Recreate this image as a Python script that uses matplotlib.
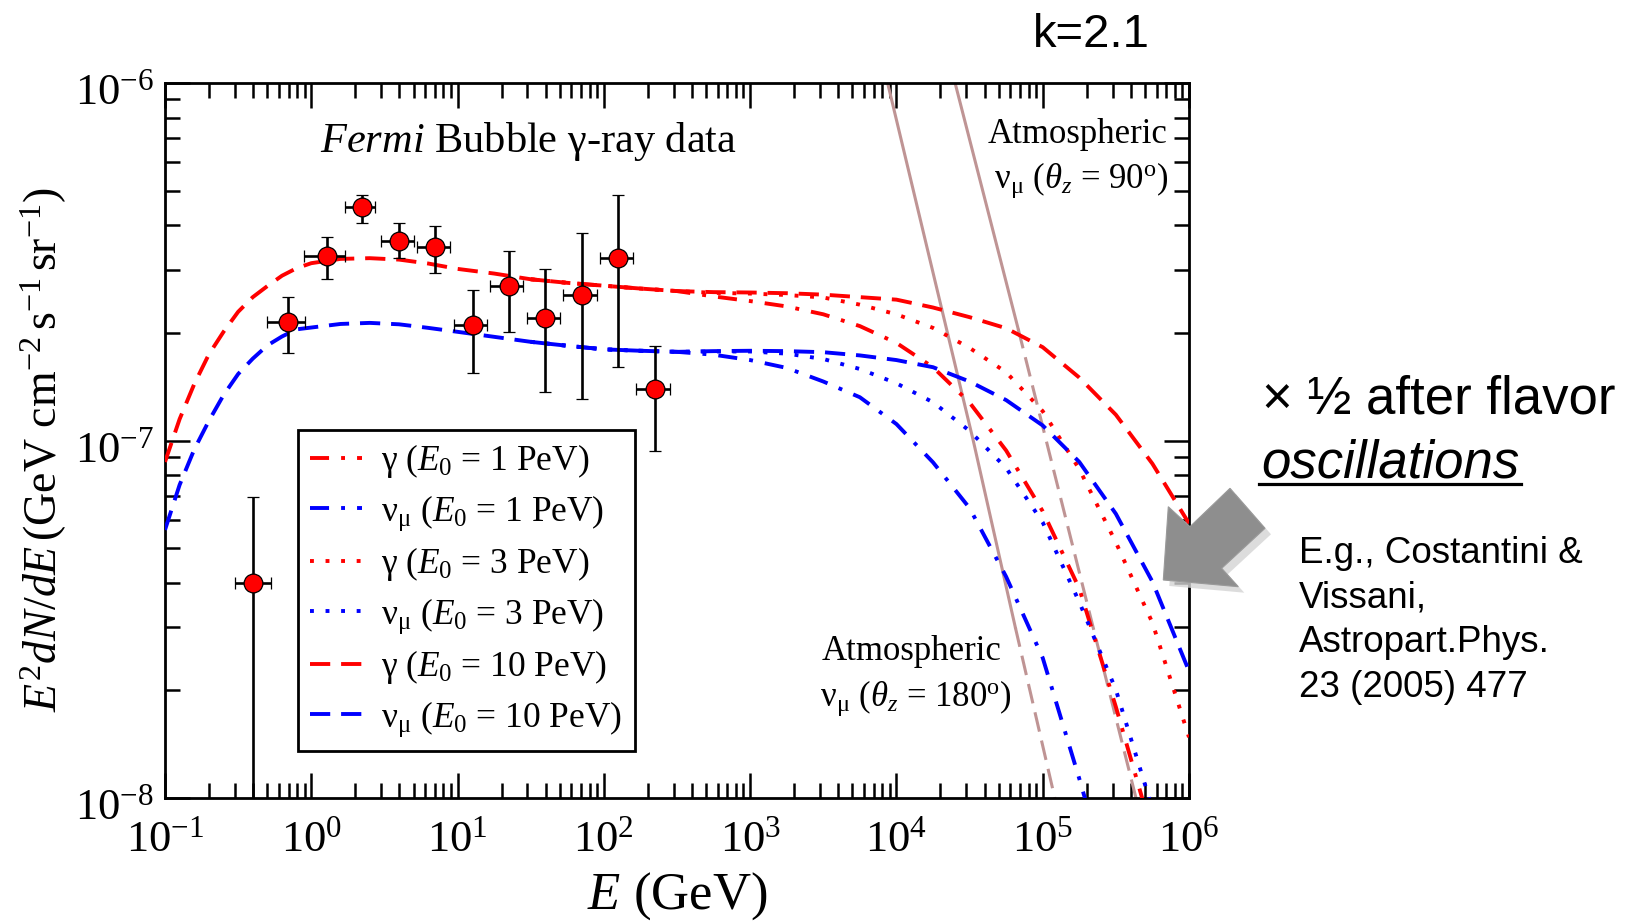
import numpy as np
import matplotlib
matplotlib.use('Agg')
import matplotlib.pyplot as plt
import matplotlib.transforms as mtransforms
from matplotlib.ticker import LogLocator, NullFormatter
from matplotlib.patches import Polygon
from matplotlib.lines import Line2D

plt.rcParams['font.family'] = ['Liberation Serif', 'DejaVu Serif']
plt.rcParams['mathtext.fontset'] = 'custom'
plt.rcParams['mathtext.rm'] = 'Liberation Serif'
plt.rcParams['mathtext.it'] = 'Liberation Serif:italic'
plt.rcParams['mathtext.bf'] = 'Liberation Serif:bold'

# ---------------- data ----------------
# Fermi bubble gamma-ray data points [GeV], [GeV cm^-2 s^-1 sr^-1]
fermi_E    = [0.40, 0.698, 1.285, 2.21, 3.96, 7.02, 12.7, 22.3, 39.6, 70.4, 124.7, 224.0]
fermi_Elo  = [0.30, 0.495, 0.893, 1.69, 2.99, 5.25, 9.38, 16.6, 29.8, 52.8, 93.5, 166.0]
fermi_Ehi  = [0.53, 0.906, 1.71, 2.72, 5.04, 8.93, 16.0, 28.1, 50.3, 89.1, 158.8, 285.0]
fermi_F    = [3.99e-8, 2.14e-7, 3.28e-7, 4.49e-7, 3.61e-7, 3.48e-7, 2.10e-7, 2.70e-7, 2.20e-7, 2.55e-7, 3.25e-7, 1.39e-7]
fermi_Flo  = [1.0e-9, 1.76e-7, 2.83e-7, 4.06e-7, 3.23e-7, 2.95e-7, 1.54e-7, 2.01e-7, 1.37e-7, 1.31e-7, 1.61e-7, 9.35e-8]
fermi_Fhi  = [6.97e-8, 2.52e-7, 3.72e-7, 4.87e-7, 4.06e-7, 3.98e-7, 2.64e-7, 3.39e-7, 3.02e-7, 3.80e-7, 4.87e-7, 1.84e-7]

# common low-energy part of the model curves (log10 E, log10 flux)
low_logE   = [-1.0, -0.9, -0.8, -0.7, -0.6, -0.5, -0.4, -0.3, -0.2, -0.1, 0.0, 0.2, 0.4, 0.6,
              0.8, 1.0, 1.25, 1.5, 1.75, 2.0, 2.25, 2.5]
gamma_low  = [-7.06, -6.94, -6.842, -6.759, -6.696, -6.640, -6.599, -6.568, -6.539, -6.518, -6.504,
              -6.492, -6.490, -6.494, -6.505, -6.520, -6.533, -6.549, -6.559, -6.567, -6.575, -6.582]
numu_low   = [-7.25, -7.124, -7.025, -6.945, -6.873, -6.814, -6.771, -6.734, -6.709, -6.689, -6.684,
              -6.674, -6.671, -6.675, -6.685, -6.696, -6.710, -6.724, -6.735, -6.745, -6.749, -6.752]

# high-energy tails
tail_logE  = [2.75, 3.0, 3.25, 3.5, 3.75, 4.0, 4.25, 4.5, 4.75, 5.0, 5.25, 5.5, 5.75, 6.0]
gamma_10   = [-6.585, -6.586, -6.588, -6.592, -6.599, -6.606, -6.628, -6.655, -6.686, -6.739,
              -6.824, -6.928, -7.065, -7.232]
gamma_3    = [-6.587, -6.589, -6.593, -6.600, -6.620, -6.647, -6.685, -6.741, -6.809, -6.918,
              -7.080, -7.285, -7.510, -7.830]
gamma_1    = [-6.597, -6.610, -6.625, -6.647, -6.680, -6.727, -6.795, -6.894, -7.028, -7.198,
              -7.414, -7.745, -8.10, -8.50]
numu_10    = [-6.750, -6.749, -6.750, -6.753, -6.762, -6.775, -6.795, -6.835, -6.887, -6.958,
              -7.060, -7.205, -7.395, -7.645]
numu_3     = [-6.751, -6.751, -6.757, -6.772, -6.800, -6.840, -6.893, -6.973, -7.077, -7.229,
              -7.452, -7.697, -8.030, -8.40]
numu_1     = [-6.760, -6.775, -6.797, -6.835, -6.879, -6.954, -7.061, -7.189, -7.381, -7.608,
              -7.946, -8.30, -8.70, -9.10]

# atmospheric nu_mu backgrounds (solid part / dashed extrapolation)
atm90_E_solid  = [2.2e4, 6.8e4]
atm90_F_solid  = [1.24e-6, 2.05e-7]
atm90_E_dash   = [6.8e4, 4.6e5]
atm90_F_dash   = [2.05e-7, 9.1e-9]
atm180_E_solid = [7.9e3, 3.35e4, 6.5e4]
atm180_F_solid = [1.18e-6, 1.0e-7, 3.0e-8]
atm180_E_dash  = [6.5e4, 1.26e5]
atm180_F_dash  = [3.0e-8, 9.3e-9]

x_ticks = [-1, 0, 1, 2, 3, 4, 5, 6]
y_ticks = [-8, -7, -6]

# ---------------- figure ----------------
W, H = 1639, 922
def fx(px):
    return px / W
def fy(py):
    return 1 - py / H

fig = plt.figure(figsize=(W / 100, H / 100), dpi=100)
ax = fig.add_axes([fx(165), fy(798), 1024 / W, 715 / H])
ax.set_xscale('log')
ax.set_yscale('log')

RED, BLUE, ATM = '#ff0000', '#0000ff', '#bf9494'
LW = 2.8
dash = (0, (5.2, 2.8))
dot = (0, (1.0, 3.0))
dashdot = (0, (4.9, 3.1, 1.0, 3.1))

def curve(low, tail, start):
    # the curves for all E0 coincide at low energy; the shared part is drawn once
    lx = np.array(low_logE + tail_logE)
    ly = np.array(low + tail)
    keep = lx >= start
    return 10.0 ** lx[keep], 10.0 ** ly[keep]

specs = [
    (gamma_low, gamma_1, RED, dashdot, r'γ ($E_0$ = 1 PeV)', 1.5),
    (numu_low, numu_1, BLUE, dashdot, r'ν$_\mathrm{μ}$ ($E_0$ = 1 PeV)', 1.5),
    (gamma_low, gamma_3, RED, dot, r'γ ($E_0$ = 3 PeV)', 1.5),
    (numu_low, numu_3, BLUE, dot, r'ν$_\mathrm{μ}$ ($E_0$ = 3 PeV)', 1.5),
    (gamma_low, gamma_10, RED, dash, r'γ ($E_0$ = 10 PeV)', -1.0),
    (numu_low, numu_10, BLUE, dash, r'ν$_\mathrm{μ}$ ($E_0$ = 10 PeV)', -1.0),
]
handles = []
for low, tail, col, ls, lab, start in specs:
    e, f = curve(low, tail, start)
    h, = ax.plot(e, f, color=col, lw=LW, linestyle=ls, label=lab, zorder=3)
    handles.append(h)

# atmospheric lines
ax.plot(atm90_E_solid, atm90_F_solid, color=ATM, lw=2.2, zorder=2)
ax.plot(atm90_E_dash, atm90_F_dash, color=ATM, lw=2.2, linestyle=(0, (6.5, 3)), zorder=2)
ax.plot(atm180_E_solid, atm180_F_solid, color=ATM, lw=2.2, zorder=2)
ax.plot(atm180_E_dash, atm180_F_dash, color=ATM, lw=2.2, linestyle=(0, (6.5, 3)), zorder=2)

# data points
E = np.array(fermi_E); F = np.array(fermi_F)
xerr = [E - np.array(fermi_Elo), np.array(fermi_Ehi) - E]
yerr = [F - np.array(fermi_Flo), np.array(fermi_Fhi) - F]
ax.errorbar(E, F, xerr=xerr, yerr=yerr, fmt='o', ms=13.5, mfc='#ff0000', mec='black', mew=0.9,
            ecolor='black', elinewidth=1.9, capsize=4.5, capthick=1.9, zorder=5)

ax.set_xlim(1e-1, 1e6)
ax.set_ylim(1e-8, 1e-6)
ax.set_xticks([10.0 ** k for k in x_ticks])
ax.set_xticklabels([rf'$10^{{{k}}}$' for k in x_ticks])
ax.set_yticks([10.0 ** k for k in y_ticks])
ax.set_yticklabels([rf'$10^{{{k}}}$' for k in y_ticks])
for axis in (ax.xaxis, ax.yaxis):
    axis.set_minor_locator(LogLocator(base=10, subs=np.arange(2, 10), numticks=100))
    axis.set_minor_formatter(NullFormatter())
ax.tick_params(which='both', direction='in', top=True, right=True, width=1.8, colors='black')
ax.tick_params(which='major', length=18, labelsize=32)
ax.tick_params(which='minor', length=10.8)
ax.tick_params(axis='x', which='major', pad=16)
ax.tick_params(axis='y', which='major', pad=8)
for s in ax.spines.values():
    s.set_linewidth(2.0)
shift = mtransforms.ScaledTranslation(0, -0.06, fig.dpi_scale_trans)
for lab in ax.get_yticklabels():
    lab.set_transform(lab.get_transform() + shift)

# legend
x0 = (298 - 165) / 1024
y0 = (798 - 430) / 715
leg = ax.legend(handles=handles, loc='upper left', bbox_to_anchor=(x0, y0), bbox_transform=ax.transAxes,
                fontsize=25.5, frameon=True, fancybox=False, edgecolor='black', framealpha=1,
                borderaxespad=0, handlelength=1.45, handletextpad=0.55, labelspacing=0.36, borderpad=0.35)
leg.get_frame().set_linewidth(2.0)
leg.set_zorder(6)

# axis labels
fig.text(fx(677), fy(909), r'$E$ (GeV)', fontsize=38, ha='center', va='baseline')
fig.text(fx(44), fy(450), r'$E^2dN/dE\,$(GeV cm$^{-2}\,$s$^{-1}\,$sr$^{-1}$)', fontsize=33,
         rotation=90, ha='center', va='center')

# annotations inside the plot
fig.text(fx(320), fy(152), r'$\mathit{Fermi}$ Bubble γ-ray data', fontsize=30.5, ha='left', va='baseline')
fig.text(fx(1167), fy(143), 'Atmospheric', fontsize=25, ha='right', va='baseline')
fig.text(fx(1169), fy(188), r'ν$_\mathrm{μ}$ ($θ_z$ = 90$^\mathrm{o}$)', fontsize=25, ha='right', va='baseline')
fig.text(fx(912), fy(660), 'Atmospheric', fontsize=25, ha='center', va='baseline')
fig.text(fx(916), fy(706), r'ν$_\mathrm{μ}$ ($θ_z$ = 180$^\mathrm{o}$)', fontsize=25, ha='center', va='baseline')

# slide annotations (sans serif)
SANS = ['Liberation Sans', 'DejaVu Sans']
fig.text(fx(1033), fy(47), 'k=2.1', fontsize=34, family=SANS, ha='left', va='baseline')
fig.text(fx(1262), fy(413), '× ½ after flavor', fontsize=38, family=SANS, ha='left', va='baseline')
fig.text(fx(1261), fy(477), 'oscillations', fontsize=38, family=SANS, style='italic', ha='left', va='baseline')
fig.add_artist(Line2D([fx(1259), fx(1521)], [fy(484), fy(484)], color='black', lw=2.3))
refs = ['E.g., Costantini &', 'Vissani,', 'Astropart.Phys.', '23 (2005) 477']
for i, r in enumerate(refs):
    fig.text(fx(1299), fy(563 + 44.5 * i), r, fontsize=26.5, family=SANS, ha='left', va='baseline')

# gray block arrow
arrow_px = [(1163.3, 580), (1168.3, 506.7), (1190, 526.7), (1230, 488.3),
            (1265, 528.3), (1221.7, 568.3), (1238.3, 586.7)]
shadow = Polygon([(fx(x + 6), fy(y + 6)) for x, y in arrow_px], closed=True,
                 transform=fig.transFigure, facecolor='#d4d4d4', edgecolor='none', alpha=0.8, zorder=9)
arrow = Polygon([(fx(x), fy(y)) for x, y in arrow_px], closed=True,
                transform=fig.transFigure, facecolor='#8e8e8e', edgecolor='#9a9a9a', lw=0.8, zorder=10)
fig.add_artist(shadow)
fig.add_artist(arrow)

fig.savefig('out.png', dpi=100)
